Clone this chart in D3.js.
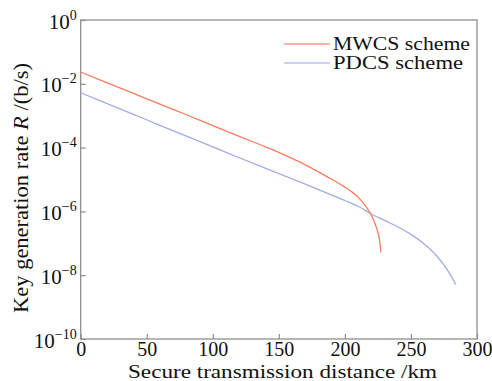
<!DOCTYPE html>
<html><head><meta charset="utf-8">
<script src="https://cdn.jsdelivr.net/npm/d3@7/dist/d3.min.js"></script>
<style>
html,body{margin:0;padding:0;background:#fff;}
svg{display:block;}
svg text{font-family:"Liberation Serif","DejaVu Serif",serif;}
</style></head>
<body>
<svg id="chart" width="492" height="381"></svg>
<script>
// ---- data ----
const mwcsDistance = [0,20,40,60,80,100,120,140,150,160,170,180,190,195,200,205,208,211,214,216,218,220,222,224,225.5,226.5,227.2];
const mwcsRate = [2.34e-2,1.07e-2,5.0e-3,2.29e-3,1.07e-3,4.9e-4,2.24e-4,1.05e-4,7.08e-5,4.57e-5,2.88e-5,1.74e-5,1.02e-5,7.76e-6,5.75e-6,4.17e-6,3.31e-6,2.51e-6,1.82e-6,1.41e-6,1.05e-6,7.59e-7,5.01e-7,3.02e-7,1.82e-7,1.07e-7,5.13e-8];
const pdcsDistance = [0,20,40,60,80,100,120,140,160,180,200,210,220,230,240,250,260,265,270,275,280,284];
const pdcsRate = [5.25e-3,2.4e-3,1.1e-3,5.0e-4,2.3e-4,1.05e-4,4.8e-5,2.24e-5,1.05e-5,4.8e-6,2.2e-6,1.45e-6,8.3e-7,5.2e-7,3.3e-7,1.9e-7,9.5e-8,6.3e-8,3.8e-8,2.1e-8,1.0e-8,5.0e-9];
const seriesNames = ["MWCS scheme","PDCS scheme"];
const xTicks = [0,50,100,150,200,250,300];
const yTickExponents = [0,-2,-4,-6,-8,-10];
const xLabel = "Secure transmission distance /km";

const colors = ["#f57d5e","#a4abe4"];
const svg = d3.select("#chart");
const L=80.7, R=477, T=20, B=339;
const x = d3.scaleLinear().domain([0,300]).range([L,R]);
const y = d3.scaleLog().domain([1e-10,1]).range([B,T]);
const frame = "#8f8f8f";
const serif = "'Liberation Serif', 'DejaVu Serif', serif";

// frame
svg.append("rect").attr("x",L).attr("y",T).attr("width",R-L).attr("height",B-T)
  .attr("fill","none").attr("stroke",frame).attr("stroke-width",1.3);

// x axis
const xa = svg.append("g").attr("transform",`translate(0,${B})`)
  .call(d3.axisBottom(x).tickValues(xTicks).tickSize(-5).tickPadding(3).tickFormat(d3.format("d")));
xa.attr("font-family",null).attr("font-size",null);
xa.select(".domain").remove();
xa.selectAll("line").attr("stroke",frame).attr("stroke-width",1.2);
xa.selectAll("text").attr("fill","#111").style("font-family",serif).style("font-size","20px");

// y axis
const ya = svg.append("g").attr("transform",`translate(${L},0)`)
  .call(d3.axisLeft(y).tickValues(yTickExponents.map(e=>Math.pow(10,e))).tickSize(-5).tickFormat(""));
ya.attr("font-family",null).attr("font-size",null);
ya.select(".domain").remove();
ya.selectAll("line").attr("stroke",frame).attr("stroke-width",1.2);
ya.selectAll(".tick").each(function(d,i){
  const e = yTickExponents[i];
  const t = d3.select(this).append("text").attr("x",-4).attr("y",8).attr("text-anchor","end")
    .attr("fill","#111").style("font-family",serif).style("font-size","21px");
  t.append("tspan").text("10");
  t.append("tspan").attr("dy",-9).style("font-size","14px").text(e===0?"0":"\u2212"+Math.abs(e));
});

// lines
const line = d3.line().x(d=>x(d[0])).y(d=>y(d[1])).curve(d3.curveMonotoneX);
const s1 = mwcsDistance.map((d,i)=>[d,mwcsRate[i]]);
const s2 = pdcsDistance.map((d,i)=>[d,pdcsRate[i]]);
svg.append("path").datum(s2).attr("d",line).attr("fill","none").attr("stroke",colors[1]).attr("stroke-width",1.3);
svg.append("path").datum(s1).attr("d",line).attr("fill","none").attr("stroke",colors[0]).attr("stroke-width",1.3);

// legend
seriesNames.forEach((n,i)=>{
  const yy = 44 + i*19;
  svg.append("line").attr("x1",284).attr("x2",330).attr("y1",yy).attr("y2",yy)
    .attr("stroke",colors[i]).attr("stroke-width",1.3).attr("opacity",0.75);
  svg.append("text").attr("x",333).attr("y",yy+6).style("font-size","18.5px").attr("fill","#111")
    .attr("textLength",i===0?137:130).attr("lengthAdjust","spacingAndGlyphs").text(n);
});

// axis titles
svg.append("text").attr("x",128).attr("y",378)
  .style("font-size","19px").attr("fill","#111")
  .attr("textLength",309).attr("lengthAdjust","spacingAndGlyphs").text(xLabel);
const yt = svg.append("text").attr("transform","translate(28,313) rotate(-90)")
  .style("font-size","21px").attr("fill","#111")
  .attr("textLength",250).attr("lengthAdjust","spacingAndGlyphs");
yt.append("tspan").text("Key generation rate ");
yt.append("tspan").attr("font-style","italic").text("R");
yt.append("tspan").text(" /(b/s)");
</script>
</body></html>
